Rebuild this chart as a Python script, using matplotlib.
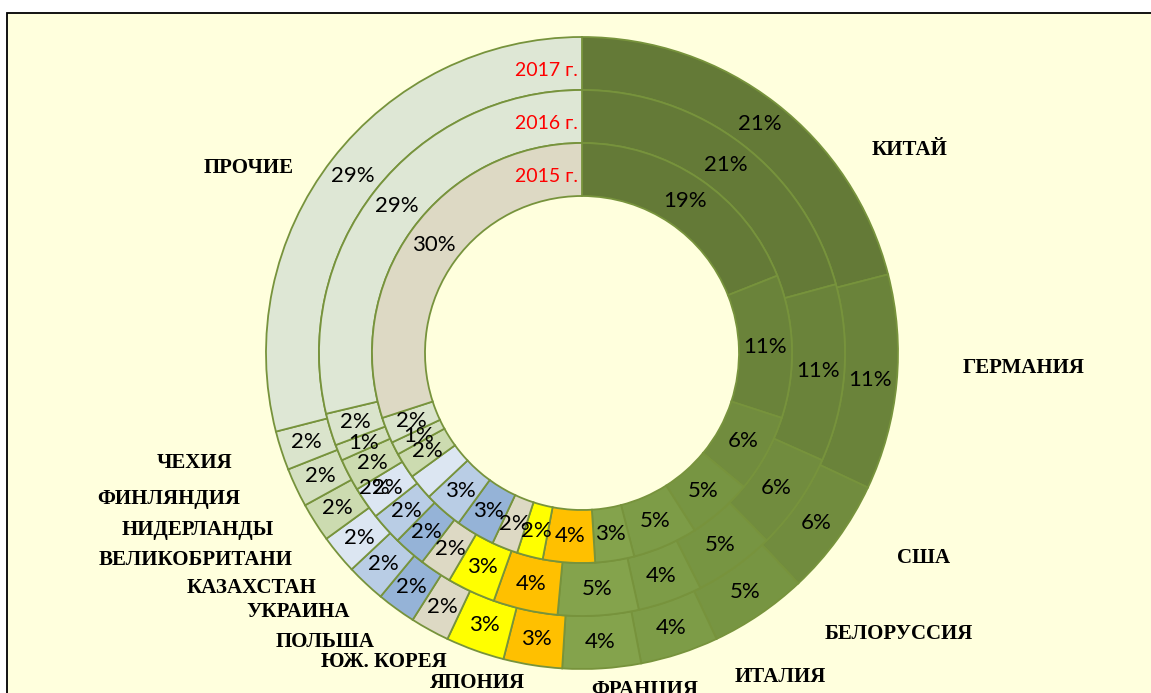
import numpy as np
import matplotlib
matplotlib.use('Agg')
import matplotlib.pyplot as plt
from matplotlib.patches import Rectangle

# Shares of imports by country, clockwise from the top
countries = ['КИТАЙ', 'ГЕРМАНИЯ', 'США', 'БЕЛОРУССИЯ', 'ИТАЛИЯ', 'ФРАНЦИЯ',
             'ЯПОНИЯ', 'ЮЖ. КОРЕЯ', 'ПОЛЬША', 'УКРАИНА', 'КАЗАХСТАН',
             'ВЕЛИКОБРИТАНИ', 'НИДЕРЛАНДЫ', 'ФИНЛЯНДИЯ', 'ЧЕХИЯ', 'ПРОЧИЕ']
share_2015 = [19, 11, 6, 5, 5, 3, 4, 2, 2, 3, 3, 2, 2, 1, 2, 30]
share_2016 = [21, 11, 6, 5, 4, 5, 4, 3, 2, 2, 2, 2, 2, 1, 2, 29]
share_2017 = [21, 11, 6, 5, 4, 4, 3, 3, 2, 2, 2, 2, 2, 2, 2, 29]
years = ['2017 г.', '2016 г.', '2015 г.']

colors = ['#647A37', '#6A833A', '#718C3E', '#779542', '#7D9C47', '#84A34C',
          '#FFC000', '#FFFF00', '#DDD9C4', '#95B3D7', '#B9CDE5', '#DCE6F2',
          '#CCDBB0', '#D4E0C0', '#DAE4CC', '#DEE7D5']
other_2015_color = '#DDD9C4'

# label positions in pixel coords (x, y from top) - layout only
name_pos = {
    'КИТАЙ': (910, 150), 'ГЕРМАНИЯ': (1024, 368), 'США': (924, 558),
    'БЕЛОРУССИЯ': (899, 634), 'ИТАЛИЯ': (780, 677), 'ФРАНЦИЯ': (645, 690),
    'ЯПОНИЯ': (478, 683), 'ЮЖ. КОРЕЯ': (384, 662), 'ПОЛЬША': (325, 642),
    'УКРАИНА': (298, 612), 'КАЗАХСТАН': (252, 588),
    'ВЕЛИКОБРИТАНИ': (196, 560), 'НИДЕРЛАНДЫ': (198, 530),
    'ФИНЛЯНДИЯ': (169, 499), 'ЧЕХИЯ': (195, 463), 'ПРОЧИЕ': (249, 168),
}

W, H = 1151, 693
cx, cy = 582, H - 353
r_out = 316
ring_w = 53

fig = plt.figure(figsize=(W / 100, H / 100), dpi=100, facecolor='white')
ax = fig.add_axes([0, 0, 1, 1])
ax.axis('off')

ax.add_patch(Rectangle((7.5, -20), W + 20, H - 12.5 + 20, facecolor='#FFFFDD',
                       edgecolor='black', lw=1.3, zorder=0))

pct_font = dict(family='Lato', fontsize=16, color='black')
rings = [share_2017, share_2016, share_2015]
label_xy = []
for i, vals in enumerate(rings):
    r = r_out - i * ring_w
    cols = list(colors)
    if i == 2:
        cols[-1] = other_2015_color
    ax.pie(vals, radius=r, center=(cx, cy), colors=cols, startangle=90,
           counterclock=False, normalize=True, frame=False,
           wedgeprops=dict(width=ring_w, edgecolor='#77933C', linewidth=1.3))
    vals = np.array(vals, dtype=float)
    cum = np.cumsum(vals) - vals / 2
    theta = np.deg2rad(90 - 360 * cum / vals.sum())
    rm = r - ring_w / 2
    label_xy.append((cx + rm * np.cos(theta), cy + rm * np.sin(theta)))

uk = countries.index('ВЕЛИКОБРИТАНИ')
for i, vals in enumerate(rings):
    xs, ys = label_xy[i]
    for k, v in enumerate(vals):
        x, y = xs[k], ys[k]
        if i == 2 and k == uk:
            # in the original this label sits displaced onto the middle ring
            x, y = label_xy[1][0][k] - 13, label_xy[1][1][k]
        ax.text(x, y, f'{int(v)}%', ha='center', va='center', **pct_font)

# year captions
for i, yr in enumerate(years):
    r = r_out - i * ring_w - ring_w / 2
    ax.text(578, cy + r - 7, yr, ha='right', va='center', family='Lato',
            fontsize=14, color='red')

for name in countries:
    x, y = name_pos[name]
    ax.text(x, H - y, name, ha='center', va='center', family='Liberation Serif',
            fontweight='bold', fontsize=15, color='black')

ax.set_aspect('equal')
ax.set_xlim(0, W)
ax.set_ylim(0, H)
ax.axis('off')
fig.savefig('out.png', dpi=100, facecolor='white')
